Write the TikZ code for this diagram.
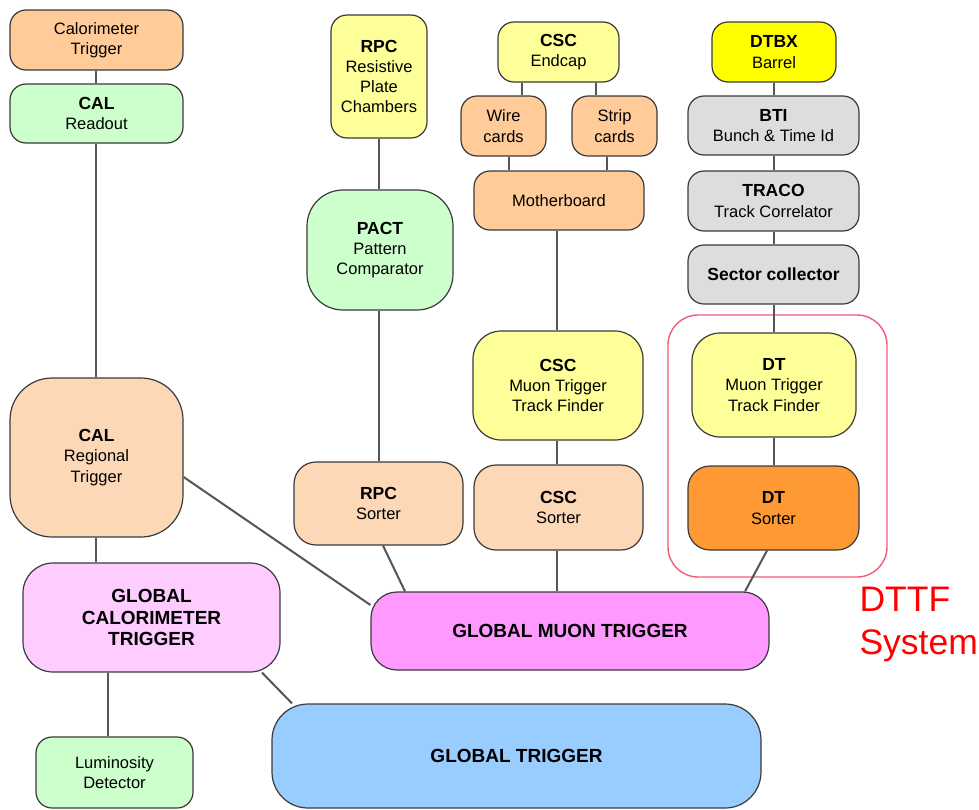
\documentclass[tikz,border=0pt]{standalone}
\usepackage{fontspec}
\setmainfont{Liberation Sans}
\usetikzlibrary{positioning}
\definecolor{bordc}{HTML}{3A3A3A}
\definecolor{linec}{HTML}{555555}
\definecolor{peach}{HTML}{FFCC99}
\definecolor{lpeach}{HTML}{FCD8B6}
\definecolor{lgreen}{HTML}{CCFFCC}
\definecolor{lyellow}{HTML}{FFFF99}
\definecolor{yell}{HTML}{FFFF00}
\definecolor{lgray}{HTML}{DDDDDD}
\definecolor{lpink}{HTML}{FFCCFF}
\definecolor{pink}{HTML}{FF99FF}
\definecolor{lblue}{HTML}{99CCFF}
\definecolor{orng}{HTML}{FF9933}
\definecolor{redbox}{HTML}{F25C78}
\newcommand{\bt}[1]{{\fontsize{17.5}{20.3}\selectfont\bfseries #1}}
\begin{document}
\begin{tikzpicture}[x=1pt,y=-1pt,
  blk/.style={draw=bordc, line width=1.2pt, rounded corners=#1, inner sep=0pt, align=center,
    font=\fontsize{16.5}{20.3}\selectfont},
  blk/.default=16pt,
  conn/.style={draw=linec, line width=2pt}]
\useasboundingbox (0,0) rectangle (979,809);

% red DTTF frame
\node[draw=redbox, line width=1.4pt, rounded corners=30pt, minimum width=219pt, minimum height=262pt] (dttf) at (777.5,446) {};
\node[text=red, align=left, anchor=west, font=\fontsize{35.5}{43}\selectfont] (dttftxt) at (856,624) {DTTF\\System};

% left column
\node[blk, fill=peach, minimum width=173pt, minimum height=60pt] (calt) at (96.5,40) {Calorimeter\\Trigger};
\node[blk, fill=lgreen, minimum width=173pt, minimum height=59pt] (calr) at (96.5,113.5) {\bt{CAL}\\Readout};
\node[blk=42pt, fill=lpeach, minimum width=173pt, minimum height=159pt] (calreg) at (96.5,457.5) {\bt{CAL}\\Regional\\Trigger};
\node[blk=30pt, fill=lpink, minimum width=257pt, minimum height=109pt, font=\fontsize{19}{21.5}\selectfont\bfseries] (gct) at (151.5,617.5) {GLOBAL\\CALORIMETER\\TRIGGER};
\node[blk, fill=lgreen, minimum width=157pt, minimum height=71pt] (lumi) at (114.5,772.5) {Luminosity\\Detector};

% RPC column
\node[blk, fill=lyellow, minimum width=96pt, minimum height=123pt] (rpc) at (379,76.5) {\bt{RPC}\\Resistive\\Plate\\Chambers};
\node[blk=36pt, fill=lgreen, minimum width=146pt, minimum height=120pt] (pact) at (380,250) {\bt{PACT}\\Pattern\\Comparator};
\node[blk=22pt, fill=lpeach, minimum width=169pt, minimum height=83pt] (rpcs) at (378.5,503.5) {\bt{RPC}\\Sorter};

% CSC column
\node[blk, fill=lyellow, minimum width=121pt, minimum height=60pt] (csc) at (558.5,52) {\bt{CSC}\\Endcap};
\node[blk, fill=peach, minimum width=85pt, minimum height=60pt] (wire) at (503.5,126) {Wire\\cards};
\node[blk, fill=peach, minimum width=85pt, minimum height=60pt] (strip) at (614.5,126) {Strip\\cards};
\node[blk, fill=peach, minimum width=170pt, minimum height=59pt] (mother) at (559,200.5) {Motherboard};
\node[blk=28pt, fill=lyellow, minimum width=170pt, minimum height=109pt] (cscmt) at (558,385.5) {\bt{CSC}\\Muon Trigger\\Track Finder};
\node[blk=22pt, fill=lpeach, minimum width=169pt, minimum height=85pt] (cscs) at (558.5,507.5) {\bt{CSC}\\Sorter};

% DT column
\node[blk, fill=yell, minimum width=124pt, minimum height=60pt] (dtbx) at (774,52) {\bt{DTBX}\\Barrel};
\node[blk, fill=lgray, minimum width=171pt, minimum height=59pt] (bti) at (773.5,125.5) {\bt{BTI}\\Bunch \& Time Id};
\node[blk, fill=lgray, minimum width=171pt, minimum height=60pt] (traco) at (773.5,201) {\bt{TRACO}\\Track Correlator};
\node[blk, fill=lgray, minimum width=171pt, minimum height=59pt] (sc) at (773.5,274.5) {\bt{Sector collector}};
\node[blk=28pt, fill=lyellow, minimum width=164pt, minimum height=104pt] (dtmt) at (774,385) {\bt{DT}\\Muon Trigger\\Track Finder};
\node[blk=22pt, fill=orng, minimum width=171pt, minimum height=84pt] (dts) at (773.5,508) {\bt{DT}\\Sorter};

% global
\node[blk=26pt, fill=pink, minimum width=398pt, minimum height=78pt, font=\fontsize{19}{21}\selectfont\bfseries] (gmt) at (570,631) {GLOBAL MUON TRIGGER};
\node[blk=36pt, fill=lblue, minimum width=489pt, minimum height=104pt, font=\fontsize{19}{21}\selectfont\bfseries] (gt) at (516.5,756) {GLOBAL TRIGGER};

% connectors
\draw[conn] (calt.south -| 96,0) -- (calr.north -| 96,0);
\draw[conn] (calr.south -| 96,0) -- (calreg.north -| 96,0);
\draw[conn] (calreg.south -| 96,0) -- (gct.north -| 96,0);
\draw[conn] (gct.south -| 108,0) -- (lumi.north -| 108,0);
\draw[conn] (gct.south -| 262,0) -- (gt.north -| 292,0);
\draw[conn] (calreg.east |- 0,477) -- (gmt.west |- 0,605);

\draw[conn] (rpc.south -| 379,0) -- (pact.north -| 379,0);
\draw[conn] (pact.south -| 379,0) -- (rpcs.north -| 379,0);
\draw[conn] (rpcs.south -| 383,0) -- (gmt.north -| 405,0);

\draw[conn] (csc.south -| 522,0) -- (wire.north -| 522,0);
\draw[conn] (csc.south -| 596,0) -- (strip.north -| 596,0);
\draw[conn] (wire.south -| 509,0) -- (mother.north -| 509,0);
\draw[conn] (strip.south -| 607,0) -- (mother.north -| 607,0);
\draw[conn] (mother.south -| 557,0) -- (cscmt.north -| 557,0);
\draw[conn] (cscmt.south -| 557,0) -- (cscs.north -| 557,0);
\draw[conn] (cscs.south -| 557,0) -- (gmt.north -| 557,0);

\draw[conn] (dtbx.south -| 774,0) -- (bti.north -| 774,0);
\draw[conn] (bti.south -| 774,0) -- (traco.north -| 774,0);
\draw[conn] (traco.south -| 774,0) -- (sc.north -| 774,0);
\draw[conn] (sc.south -| 774,0) -- (dtmt.north -| 774,0);
\draw[conn] (dtmt.south -| 774,0) -- (dts.north -| 774,0);
\draw[conn] (dts.south -| 767,0) -- (gmt.north -| 745,0);
\end{tikzpicture}
\end{document}
